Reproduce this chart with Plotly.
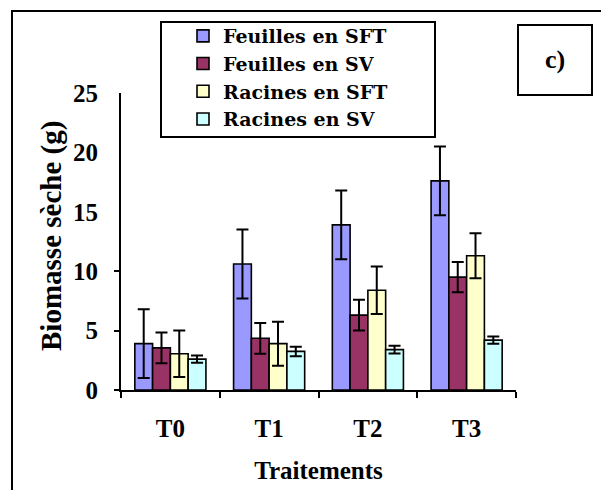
import plotly.graph_objects as go

categories = ["T0", "T1", "T2", "T3"]
series_names = ["Feuilles en SFT", "Feuilles en SV", "Racines en SFT", "Racines en SV"]
feuilles_sft = [3.9, 10.6, 13.9, 17.6]
feuilles_sft_err = [2.9, 2.9, 2.9, 2.9]
feuilles_sv = [3.55, 4.35, 6.3, 9.5]
feuilles_sv_err = [1.3, 1.3, 1.3, 1.27]
racines_sft = [3.05, 3.9, 8.4, 11.3]
racines_sft_err = [1.95, 1.85, 2.0, 1.9]
racines_sv = [2.6, 3.25, 3.4, 4.2]
racines_sv_err = [0.3, 0.4, 0.33, 0.3]
y_ticks = [0, 5, 10, 15, 20, 25]

colors = ["#9999FF", "#993366", "#FFFFCC", "#CCFFFF"]
values = [feuilles_sft, feuilles_sv, racines_sft, racines_sv]
errors = [feuilles_sft_err, feuilles_sv_err, racines_sft_err, racines_sv_err]

OFF = 8  # page body margin offset
W, H = 609 - OFF, 490 - OFF
L, T = 121 - OFF, 93 - OFF
pw, ph = 395, 297
R, B = W - L - pw, H - T - ph


def px(x):
    return (x - OFF - L) / pw


def py(y):
    return (T + ph - (y - OFF)) / ph


FONT = "Liberation Serif"

fig = go.Figure()
for name, vals, errs, col in zip(series_names, values, errors, colors):
    fig.add_trace(go.Bar(
        x=categories, y=vals, name=name,
        marker=dict(color=col, line=dict(color="black", width=1.6)),
        error_y=dict(type="data", array=errs, visible=True, color="black",
                     thickness=2, width=6),
    ))

# invisible trace to carry the secondary y-axis ticks (only 0, 5, 10 ticked in original)
fig.add_trace(go.Scatter(x=[categories[0]], y=[0], yaxis="y2", mode="markers",
                         marker=dict(opacity=0), showlegend=False, hoverinfo="skip"))

fig.update_layout(
    width=W, height=H,
    margin=dict(l=L, r=R, t=T, b=B, autoexpand=False),
    paper_bgcolor="white", plot_bgcolor="white",
    barmode="group", bargap=0.28, bargroupgap=0,
    font=dict(family=FONT, color="black"),
    showlegend=True,
    legend=dict(
        x=px(183), y=py(17), xanchor="left", yanchor="top",
        bgcolor="rgba(0,0,0,0)", borderwidth=0,
        font=dict(family="DejaVu Serif", size=19, color="black", weight="bold"),
        tracegroupgap=0,
    ),
    xaxis=dict(
        automargin=False,
        showline=True, linecolor="black", linewidth=2,
        ticks="outside", tickson="boundaries", ticklen=6, tickwidth=2, tickcolor="black",
        tickfont=dict(family=FONT, size=25, color="black", weight="bold"),
        ticklabelstandoff=15,
        showgrid=False, zeroline=False,
        title=dict(text="<b>Traitements</b>", font=dict(family=FONT, size=25), standoff=20),
    ),
    yaxis=dict(
        automargin=False,
        range=[0, 25], tickvals=y_ticks,
        showline=True, linecolor="black", linewidth=2,
        ticks="",
        tickfont=dict(family=FONT, size=25, color="black", weight="bold"),
        ticklabelstandoff=16,
        showgrid=False, zeroline=False,
    ),
    yaxis2=dict(
        automargin=False,
        range=[0, 25], overlaying="y", side="left", tickvals=[0, 5, 10],
        ticks="outside", ticklen=6, tickwidth=2, tickcolor="black",
        showticklabels=False, showline=False, showgrid=False, zeroline=False,
    ),
    shapes=[
        # outer frame
        dict(type="rect", xref="paper", yref="paper",
             x0=px(12), x1=px(620), y0=py(11), y1=py(500),
             line=dict(color="black", width=2), fillcolor="rgba(0,0,0,0)", layer="below"),
        # legend frame
        dict(type="rect", xref="paper", yref="paper",
             x0=px(161), x1=px(435), y0=py(22), y1=py(137),
             line=dict(color="black", width=2), fillcolor="white", layer="above"),
        # panel label frame
        dict(type="rect", xref="paper", yref="paper",
             x0=px(518), x1=px(592), y0=py(25), y1=py(95),
             line=dict(color="black", width=2), fillcolor="white"),
    ],
    annotations=[
        dict(text="<b>c)</b>", xref="paper", yref="paper", x=px(555), y=py(60),
             xanchor="center", yanchor="middle", showarrow=False,
             font=dict(family=FONT, size=26, color="black")),
        dict(text="<b>Biomasse sèche (g)</b>", xref="paper", yref="paper",
             x=px(51), y=py(236), xanchor="center", yanchor="middle",
             textangle=-90, showarrow=False,
             font=dict(family=FONT, size=29, color="black")),
    ],
)

fig.write_html("out.html")
